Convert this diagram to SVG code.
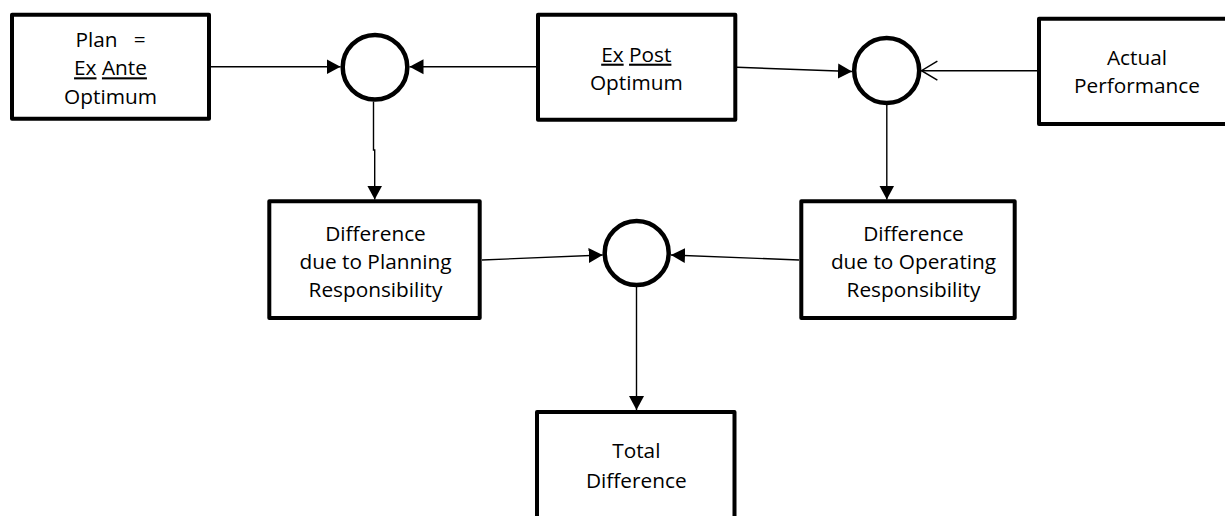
<svg xmlns="http://www.w3.org/2000/svg" width="1225" height="516" viewBox="0 0 1225 516">
  <style>
    .box { fill: #ffffff; stroke: #000000; stroke-width: 4; stroke-linejoin: round; }
    .node { fill: #ffffff; stroke: #000000; stroke-width: 4.5; }
    .lbl { font-family: "Open Sans", "Liberation Sans", sans-serif; font-size: 20.8px; fill: #000000; text-anchor: middle; white-space: pre; }
    .u { text-decoration: underline; }
    .edge { fill: none; stroke: #000000; stroke-width: 1.4; }
  </style>
  <defs>
    <marker id="arrow" markerUnits="userSpaceOnUse" markerWidth="14" markerHeight="16" viewBox="0 0 13 14" refX="13" refY="7" orient="auto">
      <path d="M0,0 L13,7 L0,14 Z" fill="#000000"/>
    </marker>
    <marker id="open" markerUnits="userSpaceOnUse" markerWidth="18" markerHeight="22" viewBox="0 0 17 20" refX="16" refY="10" orient="auto">
      <path d="M1,1 L16,10 L1,19" fill="none" stroke="#000000" stroke-width="1.4"/>
    </marker>
  </defs>

  <g id="connectors">
    <line class="edge" x1="211" y1="66.8" x2="340.5" y2="66.8" marker-end="url(#arrow)"/>
    <line class="edge" x1="536" y1="66.8" x2="409.5" y2="66.8" marker-end="url(#arrow)"/>
    <line class="edge" x1="737" y1="67.3" x2="852" y2="71.5" marker-end="url(#arrow)"/>
    <line class="edge" x1="1037" y1="70.7" x2="921.5" y2="70.7" marker-end="url(#open)"/>
    <path class="edge" d="M373.5,101.5 V150 H374.7 V199.5" marker-end="url(#arrow)"/>
    <line class="edge" x1="886.8" y1="104" x2="886.8" y2="199.5" marker-end="url(#arrow)"/>
    <line class="edge" x1="482" y1="260" x2="602.7" y2="255" marker-end="url(#arrow)"/>
    <line class="edge" x1="799" y1="260" x2="671" y2="255" marker-end="url(#arrow)"/>
    <line class="edge" x1="636.5" y1="287" x2="636.5" y2="410" marker-end="url(#arrow)"/>
  </g>

  <g id="plan">
    <rect class="box" x="12" y="14.7" width="197" height="104"/>
    <text class="lbl" x="110.5" y="46.5">Plan   =</text>
    <text class="lbl" x="110.5" y="75.3"><tspan class="u">Ex</tspan> <tspan class="u">Ante</tspan></text>
    <text class="lbl" x="110.5" y="103.8">Optimum</text>
  </g>

  <g id="ex-post">
    <rect class="box" x="538" y="14.7" width="197.3" height="105"/>
    <text class="lbl" x="636.3" y="61.7"><tspan class="u">Ex</tspan> <tspan class="u">Post</tspan></text>
    <text class="lbl" x="636.3" y="90">Optimum</text>
  </g>

  <g id="actual">
    <rect class="box" x="1039" y="18.7" width="220" height="105.3"/>
    <text class="lbl" x="1137" y="65">Actual</text>
    <text class="lbl" x="1137" y="93.3">Performance</text>
  </g>

  <g id="sum-planning">
    <circle class="node" cx="375" cy="67.2" r="32.3"/>
  </g>

  <g id="sum-operating">
    <circle class="node" cx="886.7" cy="70.5" r="32.5"/>
  </g>

  <g id="planning-diff">
    <rect class="box" x="269.3" y="201.3" width="210.4" height="116.7"/>
    <text class="lbl" x="375.5" y="240.5">Difference</text>
    <text class="lbl" x="375.5" y="269">due to Planning</text>
    <text class="lbl" x="375.5" y="297.3">Responsibility</text>
  </g>

  <g id="operating-diff">
    <rect class="box" x="801.3" y="201.3" width="213.4" height="116.7"/>
    <text class="lbl" x="913.5" y="240.5">Difference</text>
    <text class="lbl" x="913.5" y="269">due to Operating</text>
    <text class="lbl" x="913.5" y="297.3">Responsibility</text>
  </g>

  <g id="sum-total">
    <circle class="node" cx="636.7" cy="253" r="32"/>
  </g>

  <g id="total">
    <rect class="box" x="537" y="412" width="197.5" height="130"/>
    <text class="lbl" x="636.3" y="458.3">Total</text>
    <text class="lbl" x="636.3" y="487.5">Difference</text>
  </g>
</svg>
